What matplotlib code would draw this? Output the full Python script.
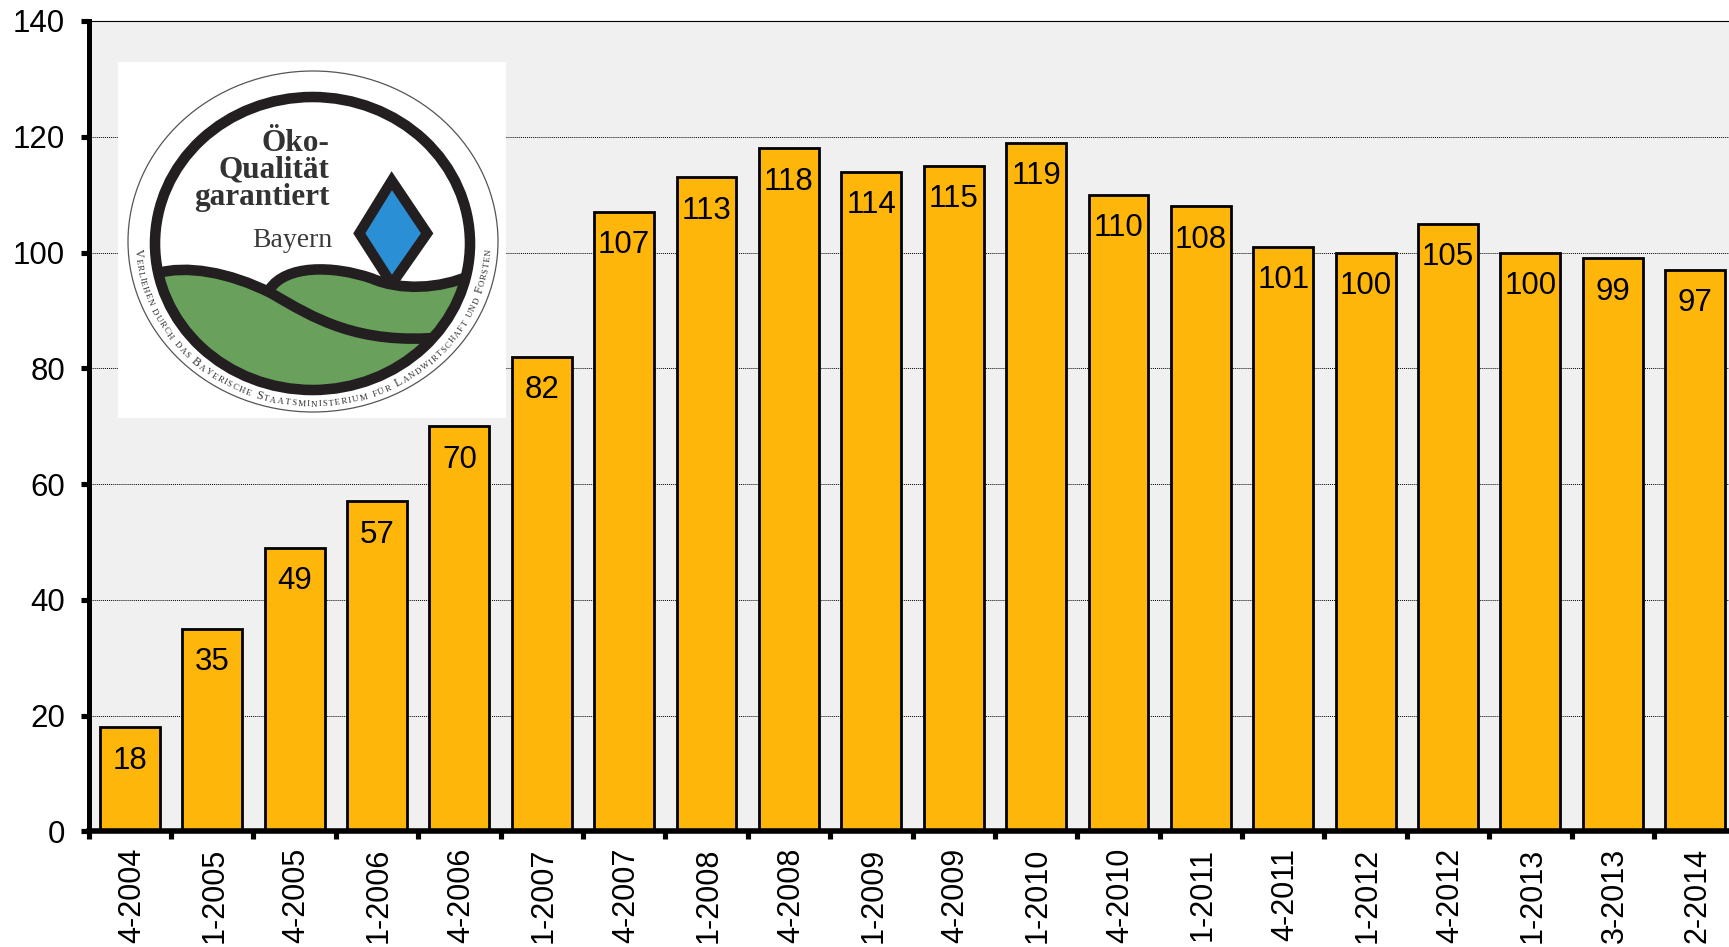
import numpy as np
import matplotlib
matplotlib.use("Agg")
import matplotlib.pyplot as plt
from matplotlib.patches import Ellipse, Rectangle, Polygon, PathPatch
from matplotlib.path import Path
from matplotlib.font_manager import FontProperties
from matplotlib.textpath import text_to_path
from matplotlib.transforms import ScaledTranslation

categories = ["4-2004", "1-2005", "4-2005", "1-2006", "4-2006", "1-2007", "4-2007",
              "1-2008", "4-2008", "1-2009", "4-2009", "1-2010", "4-2010", "1-2011",
              "4-2011", "1-2012", "4-2012", "1-2013", "3-2013", "2-2014"]
values = [18, 35, 49, 57, 70, 82, 107, 113, 118, 114, 115, 119, 110, 108, 101, 100, 105, 100, 99, 97]
y_ticks = [0, 20, 40, 60, 80, 100, 120, 140]

plt.rcParams['font.family'] = ['Liberation Sans', 'DejaVu Sans']
W, H = 1729, 947
fig = plt.figure(figsize=(W / 100, H / 100), dpi=100, facecolor='white')

# axes run past the right edge of the figure, as in the reference
x0, x1, ytop, ybot = 88.7, 1736.3, 21.0, 831.4
ax = fig.add_axes([x0 / W, 1 - ybot / H, (x1 - x0) / W, (ybot - ytop) / H])
ax.set_facecolor('#f0f0f0')
ax.set_xlim(-0.5, len(categories) - 0.5)
ax.set_ylim(0, 140)

ax.yaxis.grid(True, color='black', lw=0.7, ls=(0, (1, 1)), zorder=1)
ax.set_axisbelow(True)
pos = np.arange(len(categories))
ax.bar(pos, values, width=0.727, color='#ffb60a', edgecolor='black', linewidth=2.0, zorder=2)
for p, v in zip(pos, values):
    ax.annotate(str(v), (p, v), xytext=(0, -24), textcoords='offset points',
                ha='center', va='center', fontsize=22.5, color='black', zorder=3)

ax.set_yticks(y_ticks)
ax.tick_params(axis='y', labelsize=22.5, length=6, width=3.7, pad=11, direction='out')
ax.set_xticks(np.arange(len(categories) + 1) - 0.5)
ax.set_xticklabels([])
ax.set_xticks(pos, minor=True)
ax.set_xticklabels(categories, minor=True, rotation=90, fontsize=22)
ax.tick_params(axis='x', which='major', length=5.5, width=3.7, direction='out')
ax.tick_params(axis='x', which='minor', length=0, pad=12)
shift = ScaledTranslation(2.0 / 100, 0, fig.dpi_scale_trans)
for lbl in ax.get_xticklabels(minor=True):
    lbl.set_va('top')
    lbl.set_transform(lbl.get_transform() + shift)
ax.spines['left'].set_linewidth(3.6)
ax.spines['bottom'].set_linewidth(4.0)
ax.spines['top'].set_linewidth(0.8)
ax.spines['right'].set_linewidth(0.8)
for s in ax.spines.values():
    s.set_zorder(5)

# ---- logo, drawn in figure pixel coordinates ----
lg = fig.add_axes([0, 0, 1, 1], zorder=10)
lg.set_xlim(0, W)
lg.set_ylim(H, 0)
lg.axis('off')
lg.patch.set_visible(False)

DARK = '#231f20'
GREEN = '#69a05c'
BLUE = '#2b8fd6'


def z(x, y):
    """crop-view coordinates to pixel coordinates"""
    return (x / 2.8, y / 3.0)


lg.add_patch(Rectangle(z(330, 186), (1417 - 330) / 2.8, (1253 - 186) / 3, fc='white', ec='none'))
cx, cy = 313.0, 241.5
lg.add_patch(Ellipse((cx, cy), 2 * 185.0, 2 * 170.5, fc='white', ec='#555555', lw=0.9))

rx, ry = 157.5, 146.5
ccx, ccy = 312.5, 243.5
inner = Ellipse((ccx, ccy), 2 * rx, 2 * ry, fc='white', ec='none', transform=lg.transData)
lg.add_patch(inner)

# diamond
lg.add_patch(Polygon([z(1097, 542), z(1196, 700), z(1097, 852), z(1006, 700)], closed=True,
                     fc=BLUE, ec=DARK, lw=7.4, joinstyle='miter'))

C = Path.CURVE4
M = Path.MOVETO
L = Path.LINETO
line1 = [z(440, 820), z(520, 795), z(640, 815), z(760, 880), z(880, 955), z(1000, 1035), z(1240, 1012)]
line2 = [z(755, 868), z(800, 795), z(930, 795), z(1040, 835), z(1120, 872), z(1230, 868), z(1320, 825)]
codes_curve = [M, C, C, C, C, C, C]

# green hills
hill1 = Path(line1 + [z(1400, 1012), z(1400, 1400), z(300, 1400), z(300, 820), z(440, 820)],
             codes_curve + [L, L, L, L, L])
hill2 = Path(line2 + [z(1400, 825), z(1400, 1100), z(755, 1100), z(755, 868)],
             codes_curve + [L, L, L, L])
for h in (hill1, hill2):
    pp = PathPatch(h, fc=GREEN, ec='none')
    lg.add_patch(pp)
    pp.set_clip_path(inner)
for seg in (line1, line2):
    pp = PathPatch(Path(seg, codes_curve), fc='none', ec=DARK, lw=7.6, capstyle='butt')
    lg.add_patch(pp)
    pp.set_clip_path(inner)

lg.add_patch(Ellipse((ccx, ccy), 2 * rx, 2 * ry, fc='none', ec=DARK, lw=7.6))

# logo lettering
serif = ['Liberation Serif', 'DejaVu Serif']
for txt, yb in zip(["Öko-", "Qualität", "garantiert"], [454, 532, 614]):
    lg.text(*z(922, yb), txt, ha='right', va='baseline', family=serif, weight='bold',
            fontsize=22.5, color='#333333')
lg.text(*z(930, 740), "Bayern", ha='right', va='baseline', family=serif, fontsize=20, color='#3a3a3a')

# circular legend
ring_words = "VERLIEHEN DURCH DAS BAYERISCHE STAATSMINISTERIUM FÜR LANDWIRTSCHAFT UND FORSTEN"
chars = list(ring_words)
sizes = []
for i, ch in enumerate(ring_words):
    initial = (i == 0 or ring_words[i - 1] == ' ') and ring_words[i:i + 3] not in ("DUR", "DAS", "UND", "FÜR")
    sizes.append(8.6 if initial else 6.4)
props = [FontProperties(family='Liberation Serif', size=s) for s in sizes]
widths = []
for ch, fp in zip(chars, props):
    w, _, _ = text_to_path.get_text_width_height_descent(ch if ch != ' ' else 'n', fp, False)
    widths.append(w * (0.75 if ch == ' ' else 1.0))
widths = np.array(widths, dtype=float)
centers = np.cumsum(widths) - widths / 2
span = np.radians(87.5)
thetas = -span + 2 * span * centers / widths.sum()
Rx, Ry = 178.0, 165.0
for ch, th, fp in zip(chars, thetas, props):
    if ch == ' ':
        continue
    # tangent of the ellipse, for the angle of each letter
    rot = np.degrees(np.arctan2(Ry * np.sin(th), Rx * np.cos(th)))
    lg.text(cx + Rx * np.sin(th), cy + Ry * np.cos(th), ch, rotation=rot,
            rotation_mode='anchor', ha='center', va='baseline', fontproperties=fp, color='#333333')

fig.savefig('out.png', dpi=100)
